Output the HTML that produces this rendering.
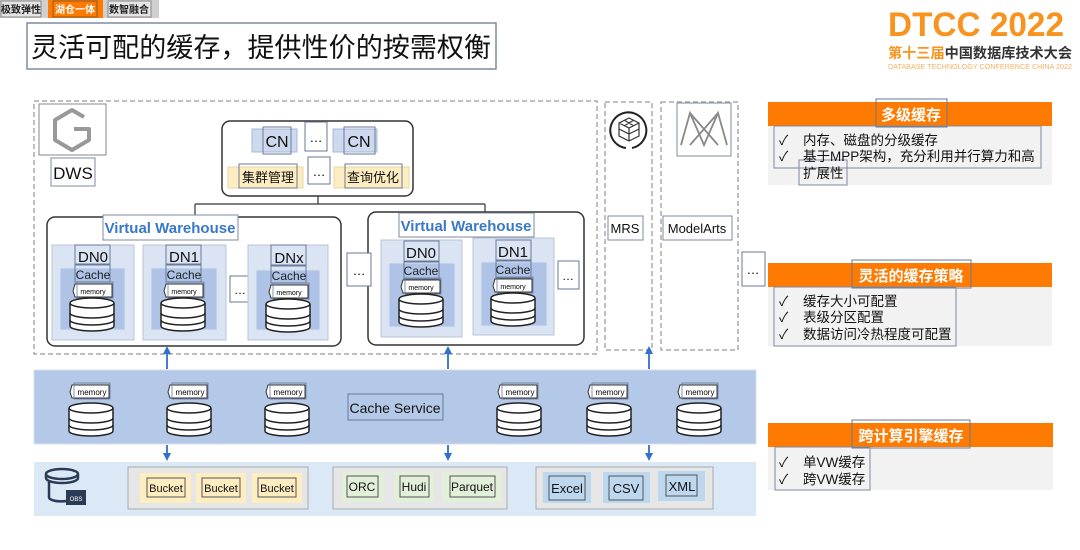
<!DOCTYPE html>
<html><head><meta charset="utf-8"><style>
html,body{margin:0;padding:0;background:#fff;}
svg{display:block;font-family:"Liberation Sans","Noto Sans CJK SC",sans-serif;}
</style></head><body>
<svg width="1080" height="550" viewBox="0 0 1080 550" xmlns="http://www.w3.org/2000/svg">
<defs>
<g id="cyl">
<path d="M0,5 L0,28 A22,5 0 0 0 44,28 L44,5" fill="#fff" stroke="#222" stroke-width="1.5"/>
<ellipse cx="22" cy="5" rx="22" ry="5" fill="#fff" stroke="#222" stroke-width="1.5"/>
<path d="M0,15 A22,5 0 0 0 44,15 M0,22 A22,5 0 0 0 44,22" fill="none" stroke="#222" stroke-width="1.5"/>
</g>
<g id="mem">
<path d="M3,1 L40,1 L40,14 L3,14 L1,8 Z" fill="#fff" stroke="#333" stroke-width="1"/>
<rect x="5" y="-1" width="36" height="16" fill="none" stroke="#6a7a99" stroke-width="0.8"/>
</g>
<marker id="ah" markerUnits="userSpaceOnUse" markerWidth="8" markerHeight="8" refX="6" refY="4" orient="auto"><path d="M0,0 L8,4 L0,8 Z" fill="#2f6fd0"/></marker>
</defs>

<!-- tabs -->
<rect x="0" y="0" width="159" height="18" fill="#d0d0d0"/>
<rect x="1" y="1" width="40" height="16" fill="#e4e4e4" stroke="#888"/>
<text x="21" y="13" font-size="10" text-anchor="middle" font-weight="bold" fill="#222">极致弹性</text>
<rect x="48" y="0" width="55" height="18" fill="#ff7a00"/>
<rect x="53" y="1" width="44" height="16" fill="none" stroke="#8a5a30"/>
<text x="75" y="13" font-size="10" text-anchor="middle" font-weight="bold" fill="#fff">湖仓一体</text>
<rect x="108" y="1" width="43" height="16" fill="#e4e4e4" stroke="#888"/>
<text x="129" y="13" font-size="10" text-anchor="middle" font-weight="bold" fill="#222">数智融合</text>

<!-- title -->
<rect x="27" y="23" width="469" height="46" fill="#fff" stroke="#7f8ba0" stroke-width="1.5"/>
<text x="31" y="57" font-size="27" fill="#111" textLength="460" lengthAdjust="spacingAndGlyphs">灵活可配的缓存，提供性价的按需权衡</text>

<!-- logo -->
<text x="888" y="36" font-size="34" font-weight="bold" fill="#f7931e" textLength="176" lengthAdjust="spacingAndGlyphs">DTCC 2022</text>
<text x="888" y="58" font-size="14" font-weight="bold" fill="#333" textLength="184" lengthAdjust="spacingAndGlyphs"><tspan fill="#f7931e">第十三届</tspan>中国数据库技术大会</text>
<text x="888" y="69" font-size="7" fill="#f7b060" textLength="184" lengthAdjust="spacingAndGlyphs">DATABASE TECHNOLOGY CONFERENCE CHINA 2022</text>

<!-- DWS dashed -->
<rect x="34" y="101" width="563" height="253" fill="none" stroke="#aaa" stroke-width="1.5" stroke-dasharray="5,3"/>
<rect x="39" y="104" width="67" height="51" fill="#fff" stroke="#888"/>
<g fill="none" stroke="#999" stroke-width="4" stroke-linejoin="round">
<path d="M84,117 L72,110 L55,120 L55,140 L72,150 L89,140 L89,129 L74,129"/>
</g>
<rect x="51" y="158" width="44" height="28" fill="#fff" stroke="#7f8ba0"/>
<text x="73" y="179" font-size="17" text-anchor="middle" fill="#111">DWS</text>

<!-- CN group -->
<rect x="222" y="121" width="191" height="75" rx="8" fill="#fff" stroke="#333" stroke-width="1.5"/>
<rect x="252" y="129" width="45" height="23" fill="#cdd9ee" stroke="#a9b8d6"/>
<rect x="263" y="127" width="28" height="27" fill="none" stroke="#6a7a99"/>
<text x="277" y="147" font-size="16" text-anchor="middle" fill="#111">CN</text>
<rect x="305" y="122" width="22" height="29" fill="#fff" stroke="#6a7a99"/>
<text x="316" y="142" font-size="13" text-anchor="middle">…</text>
<rect x="333" y="129" width="44" height="23" fill="#cdd9ee" stroke="#a9b8d6"/>
<rect x="344" y="127" width="31" height="27" fill="none" stroke="#6a7a99"/>
<text x="359" y="147" font-size="16" text-anchor="middle" fill="#111">CN</text>
<rect x="228" y="167" width="75" height="21" fill="#fdedc0" stroke="#e8d9a6"/>
<rect x="239" y="164" width="58" height="24" fill="none" stroke="#6a7a99"/>
<text x="268" y="182" font-size="13" text-anchor="middle" fill="#111">集群管理</text>
<rect x="308" y="157" width="22" height="27" fill="#fff" stroke="#6a7a99"/>
<text x="319" y="176" font-size="13" text-anchor="middle">…</text>
<rect x="334" y="167" width="75" height="21" fill="#fdedc0" stroke="#e8d9a6"/>
<rect x="345" y="164" width="57" height="24" fill="none" stroke="#6a7a99"/>
<text x="373" y="182" font-size="13" text-anchor="middle" fill="#111">查询优化</text>
<path d="M318,196 L318,204 M195,204 L485,204 M195,204 L195,217 M485,204 L485,212" stroke="#333" stroke-width="1.2" fill="none"/>

<!-- VW1 -->
<rect x="47" y="217" width="294" height="129" rx="8" fill="#fff" stroke="#333" stroke-width="1.5"/>
<rect x="103" y="215" width="135" height="25" fill="#fff" stroke="#7f8ba0"/>
<text x="170" y="233" font-size="15" font-weight="bold" text-anchor="middle" fill="#3a78c9">Virtual Warehouse</text>
<!-- VW2 -->
<rect x="368" y="212" width="216" height="133" rx="8" fill="#fff" stroke="#333" stroke-width="1.5"/>
<rect x="399" y="213" width="135" height="24" fill="#fff" stroke="#7f8ba0"/>
<text x="466" y="231" font-size="15" font-weight="bold" text-anchor="middle" fill="#3a78c9">Virtual Warehouse</text>

<!-- DN blocks -->
<g>
<rect x="52" y="245" width="82" height="95" fill="#dae4f3" stroke="#b8c4d8"/>
<rect x="60" y="268" width="65" height="62" fill="#aec3e6" stroke="#d8e2f2"/>
<rect x="75" y="245" width="35" height="19" fill="none" stroke="#6a7a99"/>
<text x="93" y="262" font-size="15" text-anchor="middle" fill="#111">DN0</text>
<rect x="75" y="265" width="35" height="17" fill="none" stroke="#6a7a99"/>
<text x="93" y="279" font-size="12" text-anchor="middle" fill="#222">Cache</text>
<use href="#mem" x="72" y="283"/><text x="93" y="294" font-size="7" text-anchor="middle">memory</text>
<use href="#cyl" x="70" y="298"/>
</g>
<g>
<rect x="143" y="245" width="83" height="95" fill="#dae4f3" stroke="#b8c4d8"/>
<rect x="151" y="268" width="66" height="62" fill="#aec3e6" stroke="#d8e2f2"/>
<rect x="166" y="245" width="35" height="19" fill="none" stroke="#6a7a99"/>
<text x="184" y="262" font-size="15" text-anchor="middle" fill="#111">DN1</text>
<rect x="166" y="265" width="35" height="17" fill="none" stroke="#6a7a99"/>
<text x="184" y="279" font-size="12" text-anchor="middle" fill="#222">Cache</text>
<use href="#mem" x="163" y="283"/><text x="184" y="294" font-size="7" text-anchor="middle">memory</text>
<use href="#cyl" x="161" y="298"/>
</g>
<rect x="230" y="276" width="20" height="26" fill="#fff" stroke="#6a7a99"/>
<text x="240" y="294" font-size="12" text-anchor="middle">…</text>
<g>
<rect x="248" y="245" width="80" height="95" fill="#dae4f3" stroke="#b8c4d8"/>
<rect x="256" y="270" width="64" height="60" fill="#aec3e6" stroke="#d8e2f2"/>
<rect x="271" y="245" width="35" height="20" fill="none" stroke="#6a7a99"/>
<text x="289" y="263" font-size="15" text-anchor="middle" fill="#111">DNx</text>
<rect x="271" y="266" width="35" height="17" fill="none" stroke="#6a7a99"/>
<text x="289" y="280" font-size="12" text-anchor="middle" fill="#222">Cache</text>
<use href="#mem" x="268" y="284"/><text x="289" y="295" font-size="7" text-anchor="middle">memory</text>
<use href="#cyl" x="266" y="299"/>
</g>
<rect x="347" y="253" width="24" height="33" fill="#fff" stroke="#6a7a99"/>
<text x="359" y="275" font-size="13" text-anchor="middle">…</text>
<g>
<rect x="381" y="240" width="81" height="97" fill="#dae4f3" stroke="#b8c4d8"/>
<rect x="389" y="263" width="66" height="64" fill="#aec3e6" stroke="#d8e2f2"/>
<rect x="404" y="241" width="35" height="20" fill="none" stroke="#6a7a99"/>
<text x="421" y="258" font-size="15" text-anchor="middle" fill="#111">DN0</text>
<rect x="404" y="262" width="35" height="17" fill="none" stroke="#6a7a99"/>
<text x="421" y="275" font-size="12" text-anchor="middle" fill="#222">Cache</text>
<use href="#mem" x="400" y="279"/><text x="421" y="290" font-size="7" text-anchor="middle">memory</text>
<use href="#cyl" x="399" y="294"/>
</g>
<g>
<rect x="473" y="238" width="81" height="97" fill="#dae4f3" stroke="#b8c4d8"/>
<rect x="481" y="262" width="66" height="64" fill="#aec3e6" stroke="#d8e2f2"/>
<rect x="496" y="240" width="35" height="20" fill="none" stroke="#6a7a99"/>
<text x="513" y="257" font-size="15" text-anchor="middle" fill="#111">DN1</text>
<rect x="496" y="261" width="35" height="17" fill="none" stroke="#6a7a99"/>
<text x="513" y="274" font-size="12" text-anchor="middle" fill="#222">Cache</text>
<use href="#mem" x="492" y="278"/><text x="513" y="289" font-size="7" text-anchor="middle">memory</text>
<use href="#cyl" x="491" y="293"/>
</g>
<rect x="558" y="261" width="21" height="28" fill="#fff" stroke="#6a7a99"/>
<text x="568" y="280" font-size="12" text-anchor="middle">…</text>

<!-- MRS / ModelArts -->
<rect x="605" y="102" width="47" height="248" fill="none" stroke="#aaa" stroke-width="1.5" stroke-dasharray="5,3"/>
<path d="M612,138 A18,18 0 1 1 632,148 M626,148 A18,18 0 0 1 612,138" fill="none" stroke="#222" stroke-width="2"/>
<g fill="none" stroke="#333" stroke-width="1.2"><path d="M629,118 L639,123 L639,136 L629,141 L619,136 L619,123 Z M619,123 L629,128 L639,123 M629,128 L629,141 M624,120 L634,126 M634,120 L624,126 M619,129 L629,134 L639,129"/></g>
<rect x="608" y="216" width="35" height="24" fill="#fff" stroke="#7f8ba0"/>
<text x="625" y="233" font-size="13" text-anchor="middle" fill="#111">MRS</text>
<rect x="661" y="102" width="77" height="248" fill="none" stroke="#aaa" stroke-width="1.5" stroke-dasharray="5,3"/>
<rect x="677" y="103" width="54" height="53" fill="#fff" stroke="#7f8ba0"/>
<g fill="none" stroke="#888" stroke-width="1.8"><path d="M681,145 L690,113 L704,145 L718,113 L727,145 M690,113 L718,145 M718,113 L690,145"/></g>
<rect x="663" y="216" width="69" height="24" fill="#fff" stroke="#7f8ba0"/>
<text x="697" y="233" font-size="13" text-anchor="middle" fill="#111">ModelArts</text>
<rect x="742" y="252" width="23" height="34" fill="#fff" stroke="#6a7a99"/>
<text x="753" y="274" font-size="13" text-anchor="middle">…</text>

<!-- right panels -->
<rect x="768" y="126" width="284" height="59" fill="#f2f2f2"/>
<rect x="768" y="102" width="284" height="24" fill="#ff7a00"/>
<rect x="876" y="99" width="71" height="28" fill="none" stroke="#6a7a99"/>
<text x="911" y="120" font-size="15" font-weight="bold" text-anchor="middle" fill="#fff">多级缓存</text>
<rect x="774" y="126" width="267" height="42" fill="none" stroke="#7f8ba0"/>
<rect x="799" y="160" width="48" height="25" fill="none" stroke="#7f8ba0"/>
<g font-size="13.5" fill="#111">
<text x="779" y="145">✓</text><text x="803" y="145">内存、磁盘的分级缓存</text>
<text x="779" y="161">✓</text><text x="803" y="161">基于MPP架构，充分利用并行算力和高</text>
<text x="803" y="178">扩展性</text>
</g>

<rect x="768" y="287" width="284" height="59" fill="#f2f2f2"/>
<rect x="768" y="263" width="284" height="24" fill="#ff7a00"/>
<rect x="852" y="260" width="119" height="28" fill="none" stroke="#6a7a99"/>
<text x="911" y="281" font-size="15" font-weight="bold" text-anchor="middle" fill="#fff">灵活的缓存策略</text>
<rect x="774" y="287" width="182" height="59" fill="none" stroke="#7f8ba0"/>
<g font-size="13.5" fill="#111">
<text x="779" y="306">✓</text><text x="803" y="306">缓存大小可配置</text>
<text x="779" y="322">✓</text><text x="803" y="322">表级分区配置</text>
<text x="779" y="339">✓</text><text x="803" y="339">数据访问冷热程度可配置</text>
</g>

<rect x="768" y="447" width="285" height="43" fill="#f2f2f2"/>
<rect x="768" y="423" width="285" height="24" fill="#ff7a00"/>
<rect x="852" y="420" width="118" height="28" fill="none" stroke="#6a7a99"/>
<text x="911" y="441" font-size="15" font-weight="bold" text-anchor="middle" fill="#fff">跨计算引擎缓存</text>
<rect x="775" y="447" width="95" height="43" fill="none" stroke="#7f8ba0"/>
<g font-size="13.5" fill="#111">
<text x="779" y="467">✓</text><text x="803" y="467">单VW缓存</text>
<text x="779" y="484">✓</text><text x="803" y="484">跨VW缓存</text>
</g>

<!-- arrows -->
<g stroke="#2f6fd0" stroke-width="1.8">
<line x1="167" y1="369" x2="167" y2="348" marker-end="url(#ah)"/>
<line x1="448" y1="369" x2="448" y2="348" marker-end="url(#ah)"/>
<line x1="649" y1="369" x2="649" y2="348" marker-end="url(#ah)"/>
<line x1="167" y1="445" x2="167" y2="459" marker-end="url(#ah)"/>
<line x1="448" y1="445" x2="448" y2="459" marker-end="url(#ah)"/>
<line x1="649" y1="445" x2="649" y2="459" marker-end="url(#ah)"/>
</g>

<!-- cache service band -->
<rect x="34" y="370" width="722" height="74" fill="#b4c8e8" stroke="#d6e0ee"/>
<g font-size="8" text-anchor="middle">
<use href="#mem" x="69" y="384"/><text x="92" y="395">memory</text><use href="#cyl" x="69" y="403"/>
<use href="#mem" x="167" y="384"/><text x="190" y="395">memory</text><use href="#cyl" x="167" y="403"/>
<use href="#mem" x="265" y="384"/><text x="288" y="395">memory</text><use href="#cyl" x="265" y="403"/>
<use href="#mem" x="497" y="384"/><text x="520" y="395">memory</text><use href="#cyl" x="497" y="403"/>
<use href="#mem" x="587" y="384"/><text x="610" y="395">memory</text><use href="#cyl" x="587" y="403"/>
<use href="#mem" x="677" y="384"/><text x="700" y="395">memory</text><use href="#cyl" x="677" y="403"/>
</g>
<rect x="348" y="394" width="95" height="26" fill="none" stroke="#6a7a99"/>
<text x="395" y="413" font-size="14" text-anchor="middle" fill="#111">Cache Service</text>

<!-- storage band -->
<rect x="34" y="462" width="722" height="54" fill="#dbe9f7"/>
<g fill="none" stroke="#2b3a55" stroke-width="2.5">
<ellipse cx="62" cy="474" rx="16" ry="5"/>
<path d="M46,474 L46,478 A16,5 0 0 0 78,478 L78,474 M49,481 L49,497 A12,4 0 0 0 66,501"/>
</g>
<rect x="66" y="490" width="20" height="15" fill="#2b3a55"/>
<text x="76" y="501" font-size="6" fill="#fff" text-anchor="middle">OBS</text>

<rect x="128" y="467" width="180" height="42" fill="#e6e6e6" stroke="#aaa"/>
<g font-size="11" text-anchor="middle" fill="#111">
<rect x="140" y="473" width="51" height="30" fill="#fdedc0"/><rect x="147" y="478" width="38" height="19" fill="none" stroke="#555"/><text x="166" y="492">Bucket</text>
<rect x="196" y="473" width="50" height="30" fill="#fdedc0"/><rect x="202" y="478" width="38" height="19" fill="none" stroke="#555"/><text x="221" y="492">Bucket</text>
<rect x="252" y="473" width="50" height="30" fill="#fdedc0"/><rect x="258" y="478" width="38" height="19" fill="none" stroke="#555"/><text x="277" y="492">Bucket</text>
</g>
<rect x="333" y="467" width="174" height="42" fill="#e6e6e6" stroke="#aaa"/>
<g font-size="12" text-anchor="middle" fill="#111">
<rect x="342" y="472" width="42" height="30" fill="#e2f0d9"/><rect x="347" y="476" width="31" height="21" fill="none" stroke="#555"/><text x="362" y="491">ORC</text>
<rect x="394" y="472" width="40" height="30" fill="#e2f0d9"/><rect x="400" y="476" width="29" height="21" fill="none" stroke="#555"/><text x="414" y="491">Hudi</text>
<rect x="442" y="472" width="59" height="30" fill="#e2f0d9"/><rect x="450" y="476" width="45" height="21" fill="none" stroke="#555"/><text x="472" y="491">Parquet</text>
</g>
<rect x="536" y="467" width="177" height="42" fill="#e6e6e6" stroke="#aaa"/>
<g font-size="13" text-anchor="middle" fill="#111">
<rect x="543" y="472" width="48" height="31" fill="#bdd7ee"/><rect x="549" y="476" width="36" height="24" fill="none" stroke="#555"/><text x="567" y="493">Excel</text>
<rect x="603" y="472" width="47" height="31" fill="#bdd7ee"/><rect x="609" y="476" width="34" height="24" fill="none" stroke="#555"/><text x="626" y="493">CSV</text>
<rect x="658" y="471" width="47" height="30" fill="#bdd7ee"/><rect x="666" y="475" width="31" height="21" fill="none" stroke="#555"/><text x="682" y="491">XML</text>
</g>
</svg>
</body></html>
